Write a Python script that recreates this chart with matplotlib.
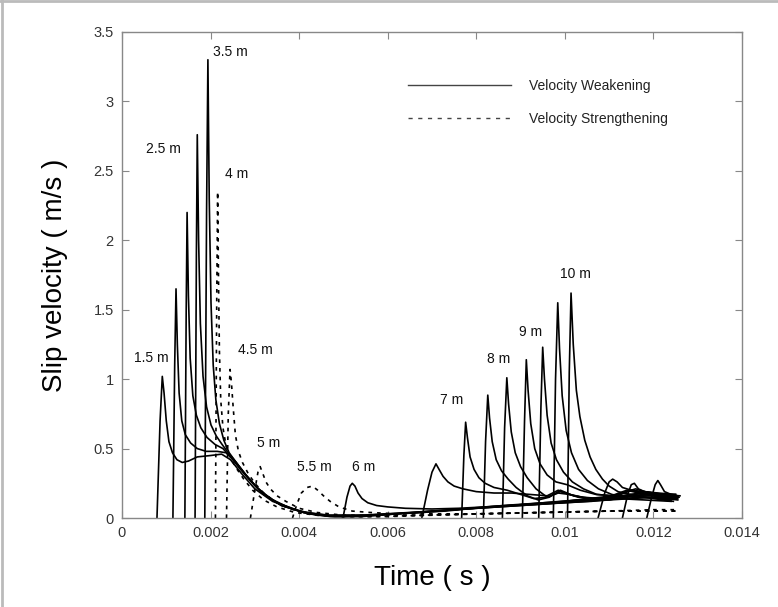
import matplotlib
matplotlib.use("Agg")
import matplotlib.pyplot as plt
from matplotlib.lines import Line2D

# ---------------- data ----------------
# Velocity weakening (solid) pulses, by distance
t_vw_1p5 = [0.00079,0.00086,0.00091,0.00095,0.00100,0.00106,0.00114,0.00124,0.00136,0.00150,0.00170,0.00200,0.00225,0.00245,0.00270,0.00300,0.00340,0.00400,0.00460,0.00540,0.00650,0.00800,0.00950,0.01100,0.01200,0.01250]
v_vw_1p5 = [0.00,0.70,1.02,0.90,0.70,0.55,0.47,0.42,0.40,0.41,0.44,0.45,0.46,0.42,0.32,0.21,0.12,0.05,0.02,0.02,0.04,0.07,0.10,0.13,0.15,0.14]

t_vw_2 = [0.00115,0.00119,0.00122,0.00125,0.00129,0.00135,0.00143,0.00155,0.00170,0.00190,0.00215,0.00235,0.00255,0.00280,0.00310,0.00350,0.00410,0.00470,0.00550,0.00660,0.00800,0.00950,0.01100,0.01200,0.01255]
v_vw_2 = [0.00,1.10,1.65,1.25,0.90,0.70,0.60,0.54,0.50,0.48,0.48,0.47,0.41,0.31,0.20,0.11,0.04,0.02,0.02,0.04,0.07,0.10,0.14,0.15,0.13]

t_vw_2p5 = [0.00142,0.00145,0.00147,0.00150,0.00154,0.00160,0.00168,0.00178,0.00192,0.00210,0.00228,0.00245,0.00265,0.00290,0.00320,0.00360,0.00420,0.00480,0.00560,0.00680,0.00820,0.00970,0.01100,0.01200,0.01255]
v_vw_2p5 = [0.00,1.50,2.20,1.60,1.15,0.88,0.74,0.65,0.58,0.53,0.50,0.44,0.36,0.27,0.17,0.09,0.03,0.01,0.02,0.04,0.08,0.11,0.15,0.16,0.14]

t_vw_3 = [0.00165,0.00168,0.00170,0.00173,0.00177,0.00183,0.00191,0.00201,0.00213,0.00226,0.00240,0.00258,0.00280,0.00305,0.00335,0.00380,0.00440,0.00500,0.00580,0.00700,0.00840,0.00990,0.01110,0.01200,0.01258]
v_vw_3 = [0.00,1.90,2.76,2.00,1.40,1.02,0.80,0.67,0.59,0.53,0.47,0.40,0.31,0.22,0.14,0.07,0.02,0.01,0.02,0.05,0.08,0.12,0.15,0.17,0.15]

t_vw_3p5 = [0.00187,0.00191,0.00194,0.00197,0.00201,0.00206,0.00212,0.00220,0.00230,0.00242,0.00258,0.00276,0.00298,0.00325,0.00360,0.00410,0.00470,0.00540,0.00620,0.00730,0.00860,0.01000,0.01110,0.01200,0.01260]
v_vw_3p5 = [0.00,2.20,3.30,2.30,1.55,1.10,0.85,0.68,0.56,0.47,0.40,0.32,0.24,0.16,0.09,0.04,0.01,0.01,0.03,0.05,0.09,0.12,0.16,0.17,0.16]

t_vw_6 = [0.00499,0.00508,0.00515,0.00520,0.00526,0.00533,0.00542,0.00555,0.00575,0.00600,0.00640,0.00700,0.00760,0.00820,0.00880,0.00940,0.01000,0.01060,0.01120,0.01180,0.01240]
v_vw_6 = [0.00,0.15,0.23,0.25,0.23,0.18,0.14,0.11,0.09,0.08,0.07,0.065,0.07,0.08,0.09,0.10,0.11,0.12,0.14,0.13,0.12]

t_vw_6p5 = [0.00677,0.00690,0.00700,0.00709,0.00716,0.00725,0.00736,0.00750,0.00770,0.00800,0.00840,0.00880,0.00920,0.00960,0.00985,0.01010,0.01050,0.01100,0.01150,0.01200,0.01245]
v_vw_6p5 = [0.00,0.20,0.33,0.39,0.35,0.30,0.26,0.23,0.21,0.19,0.18,0.18,0.17,0.16,0.20,0.17,0.14,0.13,0.16,0.14,0.12]

t_vw_7 = [0.00767,0.00772,0.00776,0.00780,0.00786,0.00795,0.00806,0.00820,0.00840,0.00870,0.00900,0.00930,0.00960,0.00990,0.01030,0.01080,0.01130,0.01180,0.01240]
v_vw_7 = [0.00,0.45,0.69,0.58,0.44,0.35,0.29,0.25,0.22,0.20,0.17,0.14,0.15,0.19,0.15,0.13,0.18,0.15,0.13]

t_vw_7p5 = [0.00816,0.00821,0.00826,0.00830,0.00836,0.00845,0.00857,0.00872,0.00890,0.00915,0.00940,0.00965,0.00990,0.01020,0.01060,0.01110,0.01150,0.01200,0.01245]
v_vw_7p5 = [0.00,0.55,0.885,0.72,0.55,0.42,0.34,0.28,0.22,0.16,0.13,0.15,0.20,0.16,0.14,0.15,0.20,0.16,0.14]

t_vw_8 = [0.00859,0.00864,0.00869,0.00873,0.00879,0.00888,0.00900,0.00915,0.00935,0.00960,0.00985,0.01010,0.01040,0.01080,0.01120,0.01160,0.01200,0.01250]
v_vw_8 = [0.00,0.65,1.01,0.82,0.62,0.47,0.37,0.29,0.21,0.15,0.18,0.17,0.15,0.14,0.17,0.21,0.17,0.15]

t_vw_8p5 = [0.00904,0.00909,0.00913,0.00917,0.00923,0.00932,0.00944,0.00960,0.00980,0.01005,0.01035,0.01070,0.01110,0.01150,0.01190,0.01250]
v_vw_8p5 = [0.00,0.70,1.14,0.92,0.68,0.50,0.39,0.31,0.26,0.24,0.20,0.17,0.16,0.20,0.17,0.15]

t_vw_9 = [0.00941,0.00946,0.00950,0.00954,0.00960,0.00969,0.00981,0.00997,0.01017,0.01042,0.01072,0.01105,0.01140,0.01180,0.01220,0.01255]
v_vw_9 = [0.00,0.80,1.23,1.00,0.74,0.54,0.42,0.33,0.26,0.21,0.17,0.16,0.20,0.17,0.16,0.15]

t_vw_9p5 = [0.00974,0.00979,0.00984,0.00988,0.00994,0.01003,0.01015,0.01031,0.01051,0.01076,0.01106,0.01140,0.01180,0.01220,0.01255]
v_vw_9p5 = [0.00,1.00,1.55,1.22,0.88,0.63,0.47,0.35,0.27,0.21,0.17,0.15,0.19,0.17,0.15]

t_vw_10 = [0.01006,0.01010,0.01014,0.01019,0.01026,0.01034,0.01045,0.01057,0.01070,0.01085,0.01100,0.01120,0.01145,0.01175,0.01210,0.01255]
v_vw_10 = [0.00,1.05,1.62,1.25,0.92,0.73,0.56,0.44,0.35,0.28,0.23,0.19,0.17,0.18,0.16,0.15]

t_vw_late1 = [0.01075,0.01090,0.01100,0.01108,0.01118,0.01130,0.01150,0.01180,0.01210,0.01250]
v_vw_late1 = [0.00,0.18,0.26,0.28,0.26,0.22,0.20,0.19,0.18,0.17]

t_vw_late2 = [0.01130,0.01142,0.01150,0.01157,0.01166,0.01180,0.01200,0.01225,0.01250]
v_vw_late2 = [0.00,0.17,0.24,0.25,0.21,0.19,0.18,0.17,0.17]

t_vw_late3 = [0.01185,0.01196,0.01204,0.01210,0.01216,0.01225,0.01240,0.01255]
v_vw_late3 = [0.00,0.15,0.24,0.27,0.24,0.19,0.17,0.16]

# Velocity strengthening (dashed) pulses
t_vs_4 = [0.00211,0.00214,0.00216,0.00218,0.00220,0.00223,0.00228,0.00235,0.00245,0.00258,0.00275,0.00295,0.00320,0.00350,0.00390,0.00440,0.00500,0.00580,0.00680,0.00800,0.00950,0.01100,0.01200,0.01250]
v_vs_4 = [0.00,1.60,2.35,1.70,1.20,0.85,0.65,0.52,0.43,0.36,0.28,0.20,0.13,0.08,0.04,0.02,0.01,0.01,0.02,0.03,0.04,0.05,0.06,0.06]

t_vs_4p5 = [0.00236,0.00240,0.00244,0.00247,0.00251,0.00256,0.00263,0.00272,0.00285,0.00300,0.00320,0.00345,0.00375,0.00410,0.00460,0.00520,0.00600,0.00700,0.00820,0.00960,0.01100,0.01200,0.01250]
v_vs_4p5 = [0.00,0.75,1.07,0.98,0.80,0.60,0.48,0.40,0.32,0.25,0.18,0.12,0.07,0.04,0.02,0.01,0.01,0.02,0.03,0.04,0.05,0.05,0.05]

t_vs_5 = [0.00290,0.00300,0.00307,0.00312,0.00318,0.00325,0.00335,0.00350,0.00370,0.00400,0.00440,0.00500,0.00580,0.00680,0.00800,0.00950,0.01100,0.01200,0.01250]
v_vs_5 = [0.00,0.20,0.33,0.37,0.32,0.26,0.21,0.16,0.12,0.07,0.04,0.02,0.02,0.02,0.03,0.04,0.05,0.05,0.05]

t_vs_5p5 = [0.00385,0.00395,0.00405,0.00418,0.00430,0.00442,0.00455,0.00470,0.00490,0.00520,0.00560,0.00620,0.00700,0.00800,0.00950,0.01100,0.01200,0.01250]
v_vs_5p5 = [0.00,0.10,0.18,0.22,0.23,0.20,0.16,0.12,0.08,0.05,0.04,0.03,0.03,0.03,0.04,0.05,0.05,0.05]

vw_curves = [(t_vw_1p5, v_vw_1p5), (t_vw_2, v_vw_2), (t_vw_2p5, v_vw_2p5), (t_vw_3, v_vw_3),
             (t_vw_3p5, v_vw_3p5), (t_vw_6, v_vw_6), (t_vw_6p5, v_vw_6p5), (t_vw_7, v_vw_7),
             (t_vw_7p5, v_vw_7p5), (t_vw_8, v_vw_8), (t_vw_8p5, v_vw_8p5), (t_vw_9, v_vw_9),
             (t_vw_9p5, v_vw_9p5), (t_vw_10, v_vw_10), (t_vw_late1, v_vw_late1),
             (t_vw_late2, v_vw_late2), (t_vw_late3, v_vw_late3)]
vs_curves = [(t_vs_4, v_vs_4), (t_vs_4p5, v_vs_4p5), (t_vs_5, v_vs_5), (t_vs_5p5, v_vs_5p5)]

# Distance labels and their anchor positions (time, velocity)
label_texts = ["1.5 m", "2.5 m", "3.5 m", "4 m", "4.5 m", "5 m", "5.5 m", "6 m",
               "7 m", "8 m", "9 m", "10 m"]
label_t = [0.00066, 0.00093, 0.00205, 0.00233, 0.00262, 0.00305, 0.00395, 0.00520,
           0.00745, 0.00851, 0.00923, 0.01023]
label_v = [1.15, 2.66, 3.355, 2.48, 1.21, 0.54, 0.37, 0.37, 0.85, 1.145, 1.34, 1.76]

x_ticks = [0, 0.002, 0.004, 0.006, 0.008, 0.01, 0.012, 0.014]
x_ticklabels = ["0", "0.002", "0.004", "0.006", "0.008", "0.01", "0.012", "0.014"]
y_ticks = [0, 0.5, 1, 1.5, 2, 2.5, 3, 3.5]
y_ticklabels = ["0", "0.5", "1", "1.5", "2", "2.5", "3", "3.5"]

# ---------------- plot ----------------
plt.rcParams['font.family'] = ['Liberation Sans', 'DejaVu Sans']
fig = plt.figure(figsize=(7.78, 6.07), dpi=100)
ax = fig.add_axes([0.1568, 0.1466, 0.7969, 0.8007])

for t, v in vw_curves:
    ax.plot(t, v, color='black', lw=1.2, solid_joinstyle='round')
for t, v in vs_curves:
    ax.plot(t, v, color='black', lw=1.2, linestyle=(0, (2.2, 3.0)))

for txt, tx, vy in zip(label_texts, label_t, label_v):
    ha = 'center' if txt in ("1.5 m", "2.5 m", "7 m", "8 m", "9 m", "10 m") else 'left'
    ax.text(tx, vy, txt, fontsize=10, ha=ha, va='center', color='#111111')

ax.set_xlim(0, 0.014)
ax.set_ylim(0, 3.5)
ax.set_xticks(x_ticks)
ax.set_xticklabels(x_ticklabels)
ax.set_yticks(y_ticks)
ax.set_yticklabels(y_ticklabels)
ax.tick_params(direction='in', top=True, right=True, length=5, width=0.8,
               color='#888888', labelsize=10.5, labelcolor='#333333', pad=6)
for sp in ax.spines.values():
    sp.set_color('#888888')
    sp.set_linewidth(1.0)

ax.set_xlabel("Time ( s )", fontsize=20, labelpad=18)
ax.set_ylabel("Slip velocity ( m/s )", fontsize=20, labelpad=18)

handles = [Line2D([], [], color='#444444', lw=1.0),
           Line2D([], [], color='#444444', lw=1.0, linestyle=(0, (3, 4)))]
leg = ax.legend(handles, ["Velocity Weakening", "Velocity Strengthening"],
                loc='upper left', bbox_to_anchor=(0.461, 0.904), frameon=False,
                handlelength=7.4, handletextpad=1.3, labelspacing=1.38,
                borderpad=0, borderaxespad=0, fontsize=10)
for tx in leg.get_texts():
    tx.set_color('#222222')

# light frame on the top and left edges of the picture
fig.add_artist(Line2D([0, 1], [0.998, 0.998], transform=fig.transFigure, color='#bbbbbb', lw=2))
fig.add_artist(Line2D([0.002, 0.002], [0, 1], transform=fig.transFigure, color='#bbbbbb', lw=2))

fig.savefig("out.png", dpi=100)
